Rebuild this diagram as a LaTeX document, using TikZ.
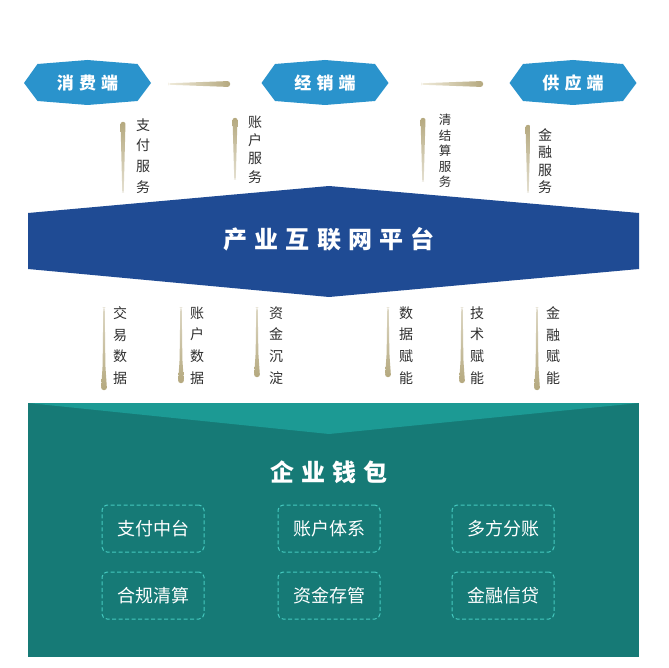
\documentclass[tikz,border=0pt]{standalone}
\usepackage{fontspec}
\setmainfont{Noto Sans CJK SC}
\usetikzlibrary{backgrounds}

\definecolor{endblue}{HTML}{2A93CC}
\definecolor{platblue}{HTML}{1F4B94}
\definecolor{walletteal}{HTML}{167A76}
\definecolor{lightteal}{HTML}{1C9A94}
\definecolor{dashcyan}{HTML}{45C9BF}
\definecolor{bardark}{HTML}{B5A97F}
\definecolor{barlight}{HTML}{F1ECDC}
\definecolor{labelgray}{HTML}{2F2F2F}
\newcommand{\lsp}{\hspace{0.3em}}

\tikzstyle{endlabel} = [text=white, font=\bfseries\fontsize{17}{17}\selectfont, inner sep=0pt]
\tikzstyle{platlabel} = [text=white, font=\bfseries\fontsize{24}{24}\selectfont, inner sep=0pt]
\tikzstyle{vlabel} = [text=labelgray, font=\fontsize{14}{20}\selectfont, align=center, inner sep=0pt]
\tikzstyle{feature} = [draw=dashcyan, line width=1pt, dash pattern=on 4pt off 2.5pt, rounded corners=5pt, minimum width=102pt, minimum height=47pt, text=white, font=\fontsize{18}{18}\selectfont]
\tikzstyle{hbar} = [left color=barlight, right color=bardark, rounded corners=2.5pt]
\tikzstyle{topbar} = [top color=bardark, bottom color=bardark!35!white, rounded corners=2pt]
\tikzstyle{botbar} = [top color=bardark!45!white, bottom color=bardark, rounded corners=2.5pt]

\begin{document}
\begin{tikzpicture}[x=1pt, y=-1pt]
    \useasboundingbox (0,0) rectangle (668,668);

    % Nodes
    \node (consumer) [endlabel] at (87.5,83) {消\lsp 费\lsp 端};
    \node (dealer) [endlabel] at (325,83) {经\lsp 销\lsp 端};
    \node (supplier) [endlabel] at (573,83) {供\lsp 应\lsp 端};

    \node (paysvc) [vlabel, font=\fontsize{14}{20.7}\selectfont] at (143,156) {支\\付\\服\\务};
    \node (acctsvc) [vlabel, font=\fontsize{14}{18.3}\selectfont] at (255,149.5) {账\\户\\服\\务};
    \node (clearsvc) [vlabel, font=\fontsize{12.5}{15.5}\selectfont] at (445,151) {清\\结\\算\\服\\务};
    \node (finsvc) [vlabel, font=\fontsize{14}{17.5}\selectfont] at (545,161) {金\\融\\服\\务};

    \node (platform) [platlabel] at (329,239) {产\lsp 业\lsp 互\lsp 联\lsp 网\lsp 平\lsp 台};

    \node (tradedata) [vlabel, font=\fontsize{14}{21.7}\selectfont] at (120,345.5) {交\\易\\数\\据};
    \node (acctdata) [vlabel, font=\fontsize{14}{21.7}\selectfont] at (197,345.5) {账\\户\\数\\据};
    \node (fundpool) [vlabel, font=\fontsize{14}{21.7}\selectfont] at (276,345.5) {资\\金\\沉\\淀};
    \node (dataen) [vlabel, font=\fontsize{14}{21.7}\selectfont] at (406,345.5) {数\\据\\赋\\能};
    \node (techen) [vlabel, font=\fontsize{14}{21.7}\selectfont] at (477,345.5) {技\\术\\赋\\能};
    \node (finen) [vlabel, font=\fontsize{14}{21.7}\selectfont] at (553,345.5) {金\\融\\赋\\能};

    \node (wallet) [platlabel] at (329,472) {企\lsp 业\lsp 钱\lsp 包};
    \node (pay) [feature] at (153,528.5) {支付中台};
    \node (account) [feature] at (329,528.5) {账户体系};
    \node (split) [feature] at (503,528.5) {多方分账};
    \node (clear) [feature] at (153,595.5) {合规清算};
    \node (custody) [feature] at (329,595.5) {资金存管};
    \node (credit) [feature] at (503,595.5) {金融信贷};

    % Shapes
    \begin{scope}[on background layer]
        \fill[white] (0,0) rectangle (668,668);
        \fill[endblue, shift={(consumer.center)}] (-63.5,0) -- (-50,-19) -- (0,-23) -- (50,-19) -- (63.5,0) -- (50,18) -- (0,22) -- (-50,18) -- cycle;
        \fill[endblue, shift={(dealer.center)}] (-63.5,0) -- (-50,-19) -- (0,-23) -- (50,-19) -- (63.5,0) -- (50,18) -- (0,22) -- (-50,18) -- cycle;
        \fill[endblue, shift={(supplier.center)}] (-63.5,0) -- (-50,-19) -- (0,-23) -- (50,-19) -- (63.5,0) -- (50,18) -- (0,22) -- (-50,18) -- cycle;
        \fill[platblue, shift={(platform.center)}] (-301,-26) -- (0,-53) -- (310,-26) -- (310,30) -- (0,58) -- (-301,30) -- cycle;
        \fill[walletteal] (28,403) rectangle (639,657);
        \fill[lightteal] (28,403) -- (639,403) -- (329,434) -- cycle;
    \end{scope}

    % Bars
    \shade[hbar] (168,83.3) -- (230,81) -- (230,87) -- (168,84.7) -- cycle;
    \shade[hbar] (421,83.3) -- (483,81) -- (483,87) -- (421,84.7) -- cycle;

    \shade[topbar] (120.5,122) -- (125.5,122) -- (123.7,193) -- (122.3,193) -- cycle;
    \shade[topbar] (232.5,118) -- (237.5,118) -- (235.7,180) -- (234.3,180) -- cycle;
    \shade[topbar] (420.5,118) -- (425.5,118) -- (423.7,182) -- (422.3,182) -- cycle;
    \shade[topbar] (525.5,125) -- (530.5,125) -- (528.7,193) -- (527.3,193) -- cycle;

    \shade[botbar] (103.3,307) -- (104.7,307) -- (105.4,366) -- (107,390) -- (101,390) -- (102.6,366) -- cycle;
    \shade[botbar] (180.3,307) -- (181.7,307) -- (182.4,360) -- (184,383) -- (178,383) -- (179.6,360) -- cycle;
    \shade[botbar] (256.3,307) -- (257.7,307) -- (258.4,354) -- (260,377) -- (254,377) -- (255.6,354) -- cycle;
    \shade[botbar] (387.3,307) -- (388.7,307) -- (389.4,354) -- (391,377) -- (385,377) -- (386.6,354) -- cycle;
    \shade[botbar] (461.3,307) -- (462.7,307) -- (463.4,360) -- (465,383) -- (459,383) -- (460.6,360) -- cycle;
    \shade[botbar] (536.3,307) -- (537.7,307) -- (538.4,366) -- (540,390) -- (534,390) -- (535.6,366) -- cycle;
\end{tikzpicture}
\end{document}
